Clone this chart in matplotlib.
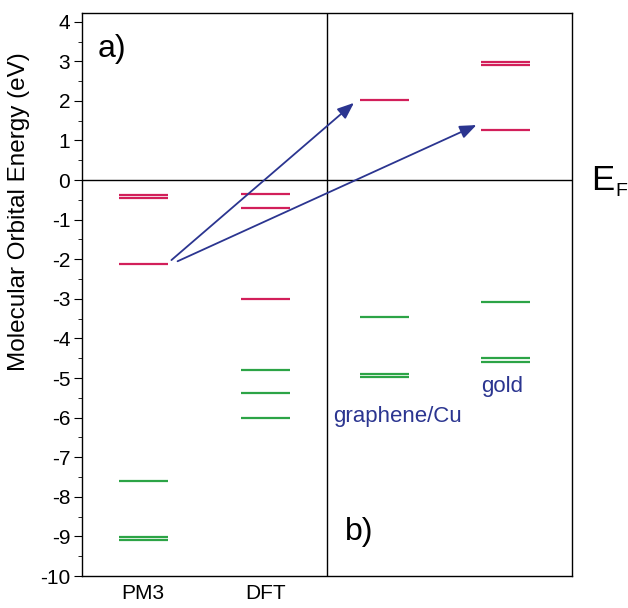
import numpy as np
import matplotlib
matplotlib.use("Agg")
import matplotlib.pyplot as plt

plt.rcParams['font.family'] = ['Liberation Sans', 'DejaVu Sans']
plt.rcParams['axes.unicode_minus'] = False

# column positions (PM3, DFT, graphene/Cu, gold)
columns = ["PM3", "DFT", "graphene/Cu", "gold"]
col_x = [0.5, 1.5, 2.47, 3.46]

# orbital levels (eV)
unocc = [
    [-0.38, -0.45, -2.11],      # PM3
    [-0.36, -0.70, -3.00],      # DFT
    [2.03],                     # graphene/Cu
    [2.98, 2.91, 1.26],         # gold
]
occ = [
    [-7.59, -9.02, -9.10],
    [-4.80, -5.37, -6.00],
    [-3.46, -4.90, -4.98],
    [-3.07, -4.50, -4.59],
]

# arrows: PM3 LUMO -> shifted LUMO on surfaces
arrow_start = [(0.73, -2.02), (0.78, -2.05)]
arrow_end = [(2.22, 1.95), (3.22, 1.39)]

red = "#d21f5a"
green = "#2ca446"
blue = "#2b3590"

fig = plt.figure(figsize=(6.28, 6.08), dpi=100)
ax = fig.add_axes([0.1306, 0.0526, 0.7802, 0.926])

hw = 0.2
for x, lv in zip(col_x, unocc):
    for e in lv:
        ax.plot([x - hw, x + hw], [e, e], color=red, lw=1.6, solid_capstyle="butt")
for x, lv in zip(col_x, occ):
    for e in lv:
        ax.plot([x - hw, x + hw], [e, e], color=green, lw=1.6, solid_capstyle="butt")

ax.axhline(0, color="black", lw=1.0)
ax.axvline(2.0, color="black", lw=1.0)

for s, e in zip(arrow_start, arrow_end):
    ax.annotate("", xy=e, xytext=s,
                arrowprops=dict(arrowstyle="-|>,head_length=1.0,head_width=0.4",
                                color=blue, lw=1.3, shrinkA=0, shrinkB=0))

ax.text(0.13, 3.3, "a)", fontsize=23, ha="left", va="center")
ax.text(2.15, -8.9, "b)", fontsize=23, ha="left", va="center")
ax.text(2.05, -6.12, "graphene/Cu", fontsize=16, color=blue, ha="left", va="baseline")
ax.text(3.26, -5.36, "gold", fontsize=16, color=blue, ha="left", va="baseline")
ax.text(1.04, 0.0, "E", transform=ax.get_yaxis_transform(), fontsize=25,
        ha="left", va="center")
ax.text(1.088, -0.3, "F", transform=ax.get_yaxis_transform(), fontsize=14,
        ha="left", va="center")

ax.set_xlim(0, 4)
ax.set_ylim(-10, 4.22)
ax.set_yticks(np.arange(-10, 5, 1))
ax.set_yticks(np.arange(-9.5, 4.5, 1), minor=True)
ax.set_xticks(col_x[:2])
ax.set_xticklabels(columns[:2])
ax.tick_params(axis="x", length=0, labelsize=15, pad=6)
ax.tick_params(axis="y", which="major", direction="out", length=5.5, labelsize=15, pad=3)
ax.tick_params(axis="y", which="minor", direction="out", length=3)
ax.set_ylabel("Molecular Orbital Energy (eV)", fontsize=17.5, va="center")
ax.yaxis.set_label_coords(-0.128, 0.648)
for sp in ax.spines.values():
    sp.set_linewidth(1.0)

fig.savefig("out.png", dpi=100)
